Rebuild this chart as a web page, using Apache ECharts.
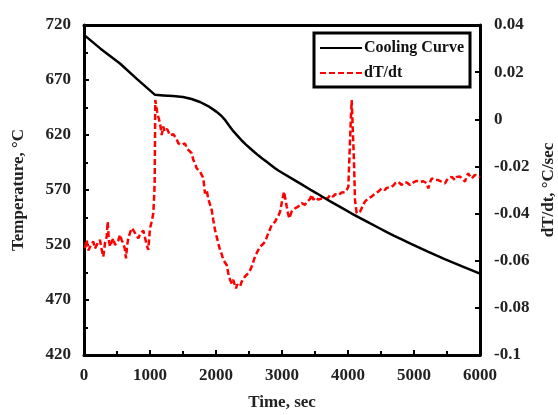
<!DOCTYPE html>
<html>
<head>
<meta charset="utf-8">
<script src="https://cdn.jsdelivr.net/npm/echarts@6/dist/echarts.min.js"></script>
<style>html,body{margin:0;padding:0;background:#fff}#c{width:558px;height:415px}</style>
</head>
<body>
<div id="c"></div>
<script>
// Cooling curve (Temperature, °C vs Time, sec)
const coolTime = [0,250,545,800,1076,1200,1350,1500,1630,1758,1880,2010,2080,2140,2200,2262,2330,2390,2450,2515,2580,2640,2700,2768,2830,2890,2950,3020,3150,3273,3400,3525,3650,3778,3920,4056,4200,4330,4455,4580,4700,4830,4955,5210,5465,5730,6000];
const coolTemp = [711,698.5,685,671,656.5,656,655.4,654.5,652.7,650,646.3,641,637.5,633.5,628.5,623.5,619,615,611.5,608,604.5,601.5,598.7,595.7,592.8,590,587.5,585,580.4,576,571.4,567,562.5,558,553.3,548.6,543.9,539.8,535.9,532,528.4,524.6,521,513.9,507.2,500.5,494];

// dT/dt (°C/sec vs Time, sec)
const rateTime = [15,41,66,91,116,141,166,192,217,242,267,292,318,344,359,376,394,419,444,470,495,520,545,570,595,617,636,654,671,697,723,748,773,798,823,848,874,899,924,950,974,1000,1026,1050,1065,1071,1080,1091,1108,1126,1152,1177,1202,1220,1238,1258,1277,1303,1329,1354,1379,1404,1429,1455,1480,1505,1530,1555,1580,1606,1632,1656,1682,1707,1733,1758,1783,1808,1833,1859,1883,1910,1935,1959,1985,2010,2035,2060,2086,2111,2136,2162,2186,2212,2238,2262,2283,2303,2320,2338,2364,2385,2405,2439,2465,2489,2515,2541,2566,2591,2616,2641,2667,2692,2717,2742,2767,2792,2818,2844,2869,2894,2920,2944,2970,2995,3030,3050,3071,3090,3111,3146,3172,3197,3222,3247,3273,3298,3323,3348,3374,3399,3425,3450,3474,3500,3526,3551,3576,3601,3626,3652,3677,3702,3727,3752,3777,3803,3829,3854,3879,3904,3929,3955,3980,4005,4020,4040,4056,4072,4090,4106,4131,4156,4182,4207,4232,4257,4283,4308,4333,4359,4384,4409,4434,4459,4485,4510,4535,4560,4586,4611,4637,4662,4687,4712,4737,4762,4788,4813,4838,4863,4889,4914,4940,4965,4990,5015,5040,5065,5091,5116,5141,5167,5192,5217,5242,5268,5293,5318,5343,5368,5394,5419,5444,5470,5495,5520,5546,5571,5596,5621,5646,5671,5697,5722,5747,5773,5798,5823,5849,5874,5899,5924,5950,5975,6000];
const rateVal = [-0.0547,-0.0512,-0.0556,-0.0561,-0.0528,-0.0519,-0.0548,-0.0554,-0.0521,-0.0512,-0.0552,-0.0583,-0.0526,-0.0498,-0.0434,-0.0512,-0.054,-0.0521,-0.0505,-0.0533,-0.054,-0.0514,-0.049,-0.0512,-0.0526,-0.0548,-0.059,-0.0535,-0.0505,-0.0482,-0.0462,-0.0471,-0.0476,-0.0494,-0.0505,-0.0489,-0.0483,-0.0472,-0.0469,-0.0533,-0.0554,-0.0462,-0.0434,-0.0399,-0.0314,-0.0258,0.0082,0.0075,0.0032,0.0011,-0.0017,-0.0067,-0.0031,-0.0052,-0.0059,-0.0041,-0.0052,-0.0068,-0.0074,-0.0063,-0.0059,-0.0085,-0.0102,-0.0094,-0.0109,-0.0117,-0.0102,-0.0121,-0.013,-0.0124,-0.0144,-0.0172,-0.0186,-0.0208,-0.0201,-0.0222,-0.0236,-0.025,-0.0314,-0.03,-0.0338,-0.0362,-0.0385,-0.0427,-0.0469,-0.0498,-0.0526,-0.0554,-0.0572,-0.0597,-0.0603,-0.0618,-0.0653,-0.0681,-0.0696,-0.0681,-0.0702,-0.0717,-0.0701,-0.0696,-0.071,-0.0692,-0.0681,-0.0667,-0.0661,-0.0653,-0.0641,-0.0625,-0.0604,-0.0583,-0.0568,-0.0554,-0.0541,-0.0533,-0.0528,-0.0519,-0.0502,-0.0483,-0.0467,-0.0448,-0.0441,-0.0435,-0.0421,-0.041,-0.0392,-0.0356,-0.0307,-0.0336,-0.037,-0.0398,-0.042,-0.0392,-0.0385,-0.0378,-0.0381,-0.037,-0.0362,-0.0356,-0.0351,-0.0363,-0.0352,-0.0349,-0.0338,-0.032,-0.0342,-0.0331,-0.0335,-0.0341,-0.0349,-0.0336,-0.0328,-0.0337,-0.0342,-0.0333,-0.032,-0.0326,-0.0328,-0.0318,-0.0314,-0.0322,-0.032,-0.0311,-0.0307,-0.0309,-0.03,-0.0286,-0.0173,-0.002,0.0082,-0.004,-0.0173,-0.0342,-0.0398,-0.0406,-0.0392,-0.0378,-0.0361,-0.0349,-0.0341,-0.0335,-0.0329,-0.0328,-0.032,-0.0314,-0.0311,-0.0307,-0.0299,-0.0293,-0.0297,-0.03,-0.0291,-0.0286,-0.0289,-0.0293,-0.0281,-0.0272,-0.0274,-0.0265,-0.0271,-0.0279,-0.0269,-0.0265,-0.0268,-0.0272,-0.0279,-0.0276,-0.0268,-0.0265,-0.0261,-0.0258,-0.0266,-0.0272,-0.0263,-0.0258,-0.0271,-0.0293,-0.0268,-0.0251,-0.0255,-0.0258,-0.0262,-0.0258,-0.0261,-0.0265,-0.0269,-0.0272,-0.0259,-0.025,-0.0247,-0.0244,-0.0251,-0.0258,-0.0245,-0.0237,-0.0243,-0.025,-0.0256,-0.0265,-0.0241,-0.0229,-0.0242,-0.0251,-0.0243,-0.0236,-0.0239,-0.0243,-0.0247];

const xTicks = {min: 0, max: 6000, interval: 1000};
const tempTicks = {min: 420, max: 720, interval: 50};
const rateTicks = {min: -0.1, max: 0.04, interval: 0.02};

const FONT = 'Liberation Serif';
const coolData = coolTime.map((t, i) => [t, coolTemp[i]]);
const rateData = rateTime.map((t, i) => [t, rateVal[i]]);

const axisLine = {show: true, onZero: false, lineStyle: {color: '#000', width: 3}};
const labelStyle = {color: '#222', fontFamily: FONT, fontWeight: 'bold', fontSize: 17};
const nameStyle = {color: '#222', fontFamily: FONT, fontWeight: 'bold', fontSize: 17};

const chart = echarts.init(document.getElementById('c'), null, {renderer: 'canvas'});
chart.setOption({
  animation: false,
  backgroundColor: '#fff',
  grid: {left: 84, right: 78, top: 25, bottom: 60, containLabel: false, outerBoundsMode: 'none'},
  legend: {
    orient: 'vertical', left: 314, top: 33,
    padding: [7, 6, 6, 5], itemGap: 9,
    itemWidth: 42, itemHeight: 14,
    borderColor: '#000', borderWidth: 3, backgroundColor: '#fff',
    itemStyle: {opacity: 0},
    textStyle: {fontFamily: FONT, fontWeight: 'bold', fontSize: 16, color: '#111', padding: [0, 0, 0, -3]},
    data: ['Cooling Curve', 'dT/dt']
  },
  xAxis: [{
    type: 'value', min: xTicks.min, max: xTicks.max, interval: xTicks.interval,
    position: 'bottom',
    name: 'Time, sec', nameLocation: 'middle', nameGap: 39, nameTextStyle: nameStyle,
    axisLine: axisLine,
    axisTick: {show: true, inside: true, length: 5, lineStyle: {color: '#000', width: 2}},
    minorTick: {show: true, splitNumber: 2, length: 4, lineStyle: {color: '#000', width: 2}},
    axisLabel: Object.assign({margin: 12, formatter: v => String(v)}, labelStyle),
    splitLine: {show: false}
  }, {
    type: 'value', min: xTicks.min, max: xTicks.max, position: 'top',
    axisLine: axisLine, axisTick: {show: false}, axisLabel: {show: false}, splitLine: {show: false}
  }],
  yAxis: [{
    type: 'value', min: tempTicks.min, max: tempTicks.max, interval: tempTicks.interval,
    position: 'left',
    name: 'Temperature, °C', nameLocation: 'middle', nameGap: 57, nameTextStyle: nameStyle,
    axisLine: axisLine,
    axisTick: {show: true, inside: true, length: 5, lineStyle: {color: '#000', width: 2}},
    minorTick: {show: true, splitNumber: 2, length: 4, lineStyle: {color: '#000', width: 2}},
    axisLabel: Object.assign({margin: 13, formatter: v => String(v)}, labelStyle),
    splitLine: {show: false}
  }, {
    type: 'value', min: rateTicks.min, max: rateTicks.max, interval: rateTicks.interval,
    position: 'right',
    name: 'dT/dt, °C/sec', nameLocation: 'middle', nameGap: 58, nameTextStyle: nameStyle,
    axisLine: axisLine,
    axisTick: {show: true, inside: true, length: 5, lineStyle: {color: '#000', width: 2}},
    axisLabel: Object.assign({margin: 14, formatter: v => String(parseFloat(v.toFixed(2)))}, labelStyle),
    splitLine: {show: false}
  }],
  series: [{
    name: 'Cooling Curve', type: 'line', xAxisIndex: 0, yAxisIndex: 0,
    data: coolData, showSymbol: false, symbol: 'none', smooth: false,
    lineStyle: {color: '#000', width: 2.5}, itemStyle: {color: '#000'}, z: 3
  }, {
    name: 'dT/dt', type: 'line', xAxisIndex: 0, yAxisIndex: 1,
    data: rateData, showSymbol: false, symbol: 'none',
    lineStyle: {color: '#ff0000', width: 2.5, type: [6, 3]}, itemStyle: {color: '#ff0000'}, z: 2
  }]
});
</script>
</body>
</html>
